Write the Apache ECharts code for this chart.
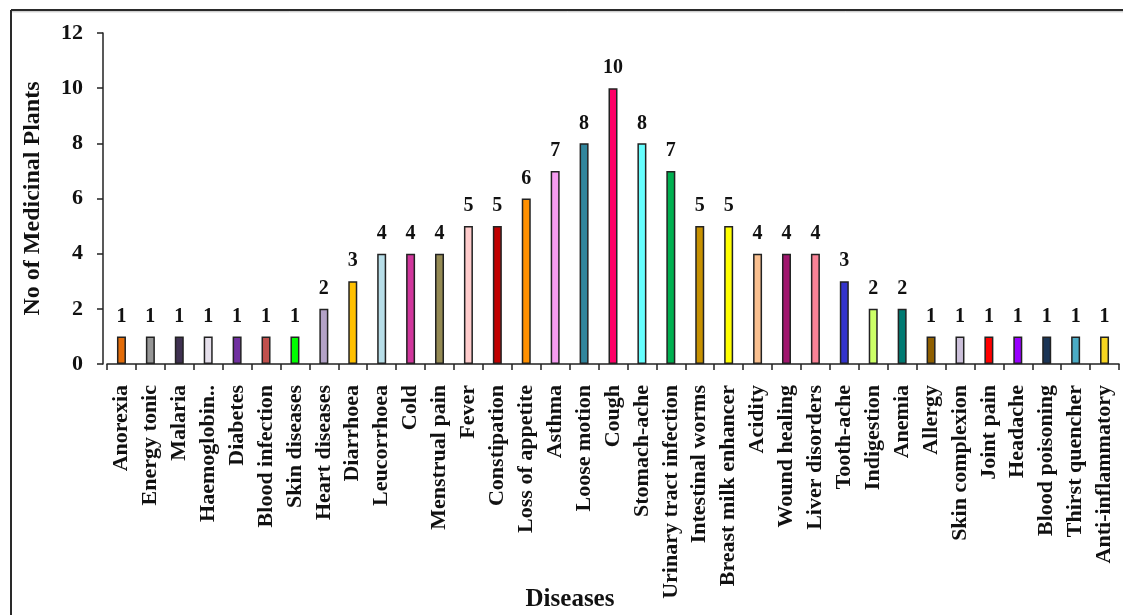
<!DOCTYPE html>
<html>
<head>
<meta charset="utf-8">
<script src="https://cdn.jsdelivr.net/npm/echarts@6/dist/echarts.min.js"></script>
<style>
  html, body { margin: 0; padding: 0; background: #ffffff; }
  #chart { width: 1123px; height: 615px; }
</style>
</head>
<body>
<div id="chart"></div>
<script>
// Number of medicinal plants used for each disease
const diseases = [
  'Anorexia', 'Energy tonic', 'Malaria', 'Haemoglobin..', 'Diabetes',
  'Blood infection', 'Skin diseases', 'Heart diseases', 'Diarrhoea', 'Leucorrhoea',
  'Cold', 'Menstrual pain', 'Fever', 'Constipation', 'Loss of appetite',
  'Asthma', 'Loose motion', 'Cough', 'Stomach-ache', 'Urinary tract infection',
  'Intestinal worms', 'Breast milk enhancer', 'Acidity', 'Wound healing', 'Liver disorders',
  'Tooth-ache', 'Indigestion', 'Anemia', 'Allergy', 'Skin complexion',
  'Joint pain', 'Headache', 'Blood poisoning', 'Thirst quencher', 'Anti-inflammatory'
];
const plantCounts = [
  1, 1, 1, 1, 1,
  1, 1, 2, 3, 4,
  4, 4, 5, 5, 6,
  7, 8, 10, 8, 7,
  5, 5, 4, 4, 4,
  3, 2, 2, 1, 1,
  1, 1, 1, 1, 1
];
const barColors = [
  '#E36C09', '#969696', '#3F3151', '#E6E0EC', '#7030A0',
  '#C0504D', '#00FF00', '#B3A2C7', '#FFC000', '#B7DEE8',
  '#D0369C', '#948A54', '#FFCCCC', '#C00000', '#FF9000',
  '#F59CF0', '#31859C', '#FF0066', '#66FFFF', '#00B050',
  '#C79100', '#FFFF00', '#FAC090', '#A0166E', '#FA8296',
  '#3333CC', '#CCFF66', '#007A72', '#8F5F00', '#CCC0DA',
  '#FF0000', '#9900FF', '#1B3556', '#4BACC6', '#F8D520'
];
const yTicks = { min: 0, max: 12, interval: 2 };

const serif = '"Liberation Serif", "Times New Roman", serif';
const chart = echarts.init(document.getElementById('chart'), null, { renderer: 'canvas' });

chart.setOption({
  animation: false,
  backgroundColor: '#ffffff',
  title: {
    text: 'Diseases',
    left: 565,
    top: 582,
    textAlign: 'center',
    textStyle: { fontFamily: serif, fontWeight: 'bold', fontSize: 25, color: '#111' }
  },
  grid: { left: 107, right: 4, top: 33, bottom: 251 },
  xAxis: {
    type: 'category',
    data: diseases,
    axisLine: { show: true, lineStyle: { color: '#222', width: 1.5 } },
    axisTick: { show: true, alignWithLabel: false, length: 6, lineStyle: { color: '#222', width: 1.5 } },
    axisLabel: {
      interval: 0,
      rotate: 90,
      margin: 21,
      fontFamily: serif,
      fontWeight: 'bold',
      fontSize: 22,
      color: '#111'
    },
    splitLine: { show: false }
  },
  yAxis: {
    type: 'value',
    min: yTicks.min,
    max: yTicks.max,
    interval: yTicks.interval,
    offset: 4,
    name: 'No of Medicinal Plants',
    nameLocation: 'middle',
    nameGap: 58,
    nameTextStyle: { fontFamily: serif, fontWeight: 'bold', fontSize: 24, color: '#111' },
    axisLine: { show: true, lineStyle: { color: '#222', width: 1.5 } },
    axisTick: { show: true, length: 6, lineStyle: { color: '#222', width: 1.5 } },
    axisLabel: {
      margin: 20,
      fontFamily: serif,
      fontWeight: 'bold',
      fontSize: 22,
      color: '#111'
    },
    splitLine: { show: false }
  },
  series: [{
    type: 'bar',
    barWidth: 9,
    data: plantCounts.map((v, i) => ({
      value: v,
      itemStyle: { color: barColors[i], borderColor: '#222', borderWidth: 1.5 }
    })),
    label: {
      show: true,
      position: 'top',
      distance: 10,
      fontFamily: serif,
      fontWeight: 'bold',
      fontSize: 20,
      color: '#111'
    }
  }],
  graphic: [
    { type: 'line', shape: { x1: 11, y1: 10, x2: 1123, y2: 10 }, style: { stroke: '#2a2a2a', lineWidth: 2 } },
    { type: 'line', shape: { x1: 11, y1: 10, x2: 11, y2: 615 }, style: { stroke: '#2a2a2a', lineWidth: 2 } },
    { type: 'line', shape: { x1: 12, y1: 11.8, x2: 1123, y2: 11.8 }, style: { stroke: '#bdbdbd', lineWidth: 1 } }
  ]
});
</script>
</body>
</html>
